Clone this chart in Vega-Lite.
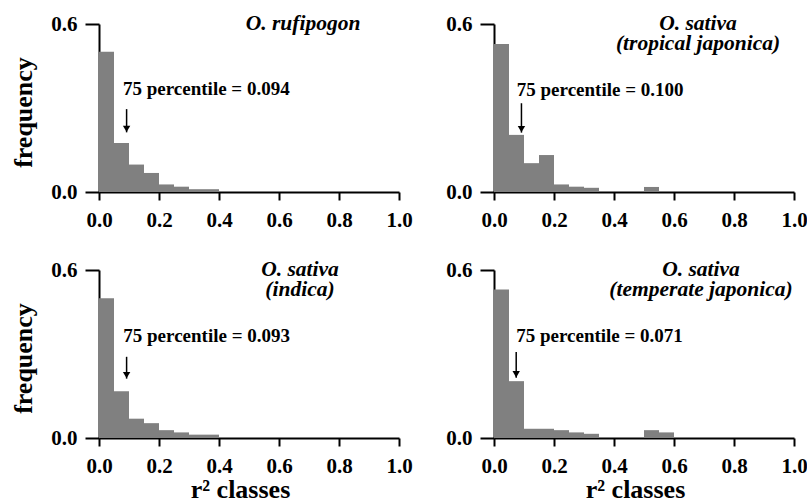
{
  "$schema": "https://vega.github.io/schema/vega-lite/v6.json",
  "autosize": {"type": "pad"},
  "padding": {"left": 10, "top": 13, "right": 5, "bottom": 0},
  "background": "white",
  "config": {
    "view": {"stroke": null},
    "font": "Times New Roman, Liberation Serif, serif",
    "text": {"font": "Times New Roman, Liberation Serif, serif"},
    "axis": {
      "grid": false,
      "domainColor": "black",
      "domainWidth": 2,
      "tickColor": "black",
      "tickWidth": 2,
      "labelColor": "black",
      "labelFont": "Times New Roman, Liberation Serif, serif",
      "labelFontSize": 21,
      "labelFontWeight": "bold",
      "titleColor": "black",
      "titleFont": "Times New Roman, Liberation Serif, serif",
      "titleFontSize": 26,
      "titleFontWeight": "bold"
    },
    "axisX": {"tickSize": 8, "labelPadding": 9, "titlePadding": 0, "titleX": 141, "labelFlush": false, "labelOverlap": false},
    "axisY": {"tickSize": 14, "labelPadding": 8, "titlePadding": 14, "titleY": 88}
  },
  "datasets": {
    "bars": [
      {"panel": "rufipogon", "bin_start": 0.0, "bin_end": 0.05, "freq": 0.501},
      {"panel": "rufipogon", "bin_start": 0.05, "bin_end": 0.10, "freq": 0.175},
      {"panel": "rufipogon", "bin_start": 0.10, "bin_end": 0.15, "freq": 0.098},
      {"panel": "rufipogon", "bin_start": 0.15, "bin_end": 0.20, "freq": 0.068},
      {"panel": "rufipogon", "bin_start": 0.20, "bin_end": 0.25, "freq": 0.027},
      {"panel": "rufipogon", "bin_start": 0.25, "bin_end": 0.30, "freq": 0.019},
      {"panel": "rufipogon", "bin_start": 0.30, "bin_end": 0.35, "freq": 0.010},
      {"panel": "rufipogon", "bin_start": 0.35, "bin_end": 0.40, "freq": 0.010},
      {"panel": "tropical", "bin_start": 0.0, "bin_end": 0.05, "freq": 0.529},
      {"panel": "tropical", "bin_start": 0.05, "bin_end": 0.10, "freq": 0.204},
      {"panel": "tropical", "bin_start": 0.10, "bin_end": 0.15, "freq": 0.103},
      {"panel": "tropical", "bin_start": 0.15, "bin_end": 0.20, "freq": 0.132},
      {"panel": "tropical", "bin_start": 0.20, "bin_end": 0.25, "freq": 0.027},
      {"panel": "tropical", "bin_start": 0.25, "bin_end": 0.30, "freq": 0.019},
      {"panel": "tropical", "bin_start": 0.30, "bin_end": 0.35, "freq": 0.015},
      {"panel": "tropical", "bin_start": 0.50, "bin_end": 0.55, "freq": 0.018},
      {"panel": "indica", "bin_start": 0.0, "bin_end": 0.05, "freq": 0.499},
      {"panel": "indica", "bin_start": 0.05, "bin_end": 0.10, "freq": 0.167},
      {"panel": "indica", "bin_start": 0.10, "bin_end": 0.15, "freq": 0.069},
      {"panel": "indica", "bin_start": 0.15, "bin_end": 0.20, "freq": 0.053},
      {"panel": "indica", "bin_start": 0.20, "bin_end": 0.25, "freq": 0.028},
      {"panel": "indica", "bin_start": 0.25, "bin_end": 0.30, "freq": 0.020},
      {"panel": "indica", "bin_start": 0.30, "bin_end": 0.35, "freq": 0.012},
      {"panel": "indica", "bin_start": 0.35, "bin_end": 0.40, "freq": 0.012},
      {"panel": "temperate", "bin_start": 0.0, "bin_end": 0.05, "freq": 0.530},
      {"panel": "temperate", "bin_start": 0.05, "bin_end": 0.10, "freq": 0.203},
      {"panel": "temperate", "bin_start": 0.10, "bin_end": 0.15, "freq": 0.033},
      {"panel": "temperate", "bin_start": 0.15, "bin_end": 0.20, "freq": 0.033},
      {"panel": "temperate", "bin_start": 0.20, "bin_end": 0.25, "freq": 0.028},
      {"panel": "temperate", "bin_start": 0.25, "bin_end": 0.30, "freq": 0.020},
      {"panel": "temperate", "bin_start": 0.30, "bin_end": 0.35, "freq": 0.015},
      {"panel": "temperate", "bin_start": 0.50, "bin_end": 0.55, "freq": 0.028},
      {"panel": "temperate", "bin_start": 0.55, "bin_end": 0.60, "freq": 0.020}
    ],
    "notes": [
      {"panel": "rufipogon", "title": "O. rufipogon", "title_x": 0.68, "label": "75 percentile = 0.094", "label_x": 0.08, "label_y": 0.345, "arrow_x": 0.092, "arrow_top": 0.296, "arrow_tip": 0.213},
      {"panel": "tropical", "title": "O. sativa\n(tropical japonica)", "title_x": 0.68, "label": "75 percentile = 0.100", "label_x": 0.076, "label_y": 0.343, "arrow_x": 0.0915, "arrow_top": 0.317, "arrow_tip": 0.212},
      {"panel": "indica", "title": "O. sativa\n(indica)", "title_x": 0.67, "label": "75 percentile = 0.093", "label_x": 0.081, "label_y": 0.343, "arrow_x": 0.092, "arrow_top": 0.29, "arrow_tip": 0.212},
      {"panel": "temperate", "title": "O. sativa\n(temperate japonica)", "title_x": 0.69, "label": "75 percentile = 0.071", "label_x": 0.074, "label_y": 0.343, "arrow_x": 0.074, "arrow_top": 0.307, "arrow_tip": 0.215}
    ]
  },
  "columns": 2,
  "spacing": {"row": 78, "column": 95},
  "bounds": "flush",
  "concat": [
    {
      "width": 300, "height": 168,
      "layer": [
        {"data": {"name": "bars"}, "transform": [{"filter": "datum.panel == 'rufipogon'"}],
         "mark": {"type": "rect", "color": "#808080"},
         "encoding": {
           "x": {"field": "bin_start", "type": "quantitative", "scale": {"domain": [0, 1], "nice": false},
                 "axis": {"title": null, "values": [0, 0.1, 0.2, 0.3, 0.4, 0.5, 0.6, 0.7, 0.8, 0.9, 1.0], "labelExpr": "round(datum.value * 10) % 2 == 0 ? format(datum.value, '.1f') : ''"}},
           "x2": {"field": "bin_end"},
           "y": {"field": "freq", "type": "quantitative", "scale": {"domain": [0, 0.6], "nice": false},
                 "axis": {"title": "frequency", "values": [0, 0.6], "format": ".1f"}},
           "y2": {"datum": 0}
         }},
        {"data": {"name": "notes"}, "transform": [{"filter": "datum.panel == 'rufipogon'"}],
         "mark": {"type": "rule", "strokeWidth": 1.5, "color": "black"},
         "encoding": {"x": {"field": "arrow_x", "type": "quantitative"}, "y": {"field": "arrow_top", "type": "quantitative"}, "y2": {"field": "arrow_tip"}}},
        {"data": {"name": "notes"}, "transform": [{"filter": "datum.panel == 'rufipogon'"}],
         "mark": {"type": "point", "shape": "triangle-down", "filled": true, "color": "black", "size": 55, "opacity": 1, "yOffset": -3.5},
         "encoding": {"x": {"field": "arrow_x", "type": "quantitative"}, "y": {"field": "arrow_tip", "type": "quantitative"}}},
        {"data": {"name": "notes"}, "transform": [{"filter": "datum.panel == 'rufipogon'"}],
         "mark": {"type": "text", "align": "left", "baseline": "alphabetic", "fontSize": 19, "fontWeight": "bold", "color": "black"},
         "encoding": {"x": {"field": "label_x", "type": "quantitative"}, "y": {"field": "label_y", "type": "quantitative"}, "text": {"field": "label"}}},
        {"data": {"name": "notes"}, "transform": [{"filter": "datum.panel == 'rufipogon'"}],
         "mark": {"type": "text", "align": "center", "baseline": "alphabetic", "fontSize": 21.5, "fontWeight": "bold", "fontStyle": "italic", "color": "black", "lineBreak": "\n", "lineHeight": 20, "dy": 6},
         "encoding": {"x": {"field": "title_x", "type": "quantitative"}, "y": {"datum": 0.6}, "text": {"field": "title"}}}
      ]
    },
    {
      "width": 300, "height": 168,
      "layer": [
        {"data": {"name": "bars"}, "transform": [{"filter": "datum.panel == 'tropical'"}],
         "mark": {"type": "rect", "color": "#808080"},
         "encoding": {
           "x": {"field": "bin_start", "type": "quantitative", "scale": {"domain": [0, 1], "nice": false},
                 "axis": {"title": null, "values": [0, 0.1, 0.2, 0.3, 0.4, 0.5, 0.6, 0.7, 0.8, 0.9, 1.0], "labelExpr": "round(datum.value * 10) % 2 == 0 ? format(datum.value, '.1f') : ''"}},
           "x2": {"field": "bin_end"},
           "y": {"field": "freq", "type": "quantitative", "scale": {"domain": [0, 0.6], "nice": false},
                 "axis": {"title": null, "values": [0, 0.6], "format": ".1f"}},
           "y2": {"datum": 0}
         }},
        {"data": {"name": "notes"}, "transform": [{"filter": "datum.panel == 'tropical'"}],
         "mark": {"type": "rule", "strokeWidth": 1.5, "color": "black"},
         "encoding": {"x": {"field": "arrow_x", "type": "quantitative"}, "y": {"field": "arrow_top", "type": "quantitative"}, "y2": {"field": "arrow_tip"}}},
        {"data": {"name": "notes"}, "transform": [{"filter": "datum.panel == 'tropical'"}],
         "mark": {"type": "point", "shape": "triangle-down", "filled": true, "color": "black", "size": 55, "opacity": 1, "yOffset": -3.5},
         "encoding": {"x": {"field": "arrow_x", "type": "quantitative"}, "y": {"field": "arrow_tip", "type": "quantitative"}}},
        {"data": {"name": "notes"}, "transform": [{"filter": "datum.panel == 'tropical'"}],
         "mark": {"type": "text", "align": "left", "baseline": "alphabetic", "fontSize": 19, "fontWeight": "bold", "color": "black"},
         "encoding": {"x": {"field": "label_x", "type": "quantitative"}, "y": {"field": "label_y", "type": "quantitative"}, "text": {"field": "label"}}},
        {"data": {"name": "notes"}, "transform": [{"filter": "datum.panel == 'tropical'"}],
         "mark": {"type": "text", "align": "center", "baseline": "alphabetic", "fontSize": 21.5, "fontWeight": "bold", "fontStyle": "italic", "color": "black", "lineBreak": "\n", "lineHeight": 20, "dy": 6},
         "encoding": {"x": {"field": "title_x", "type": "quantitative"}, "y": {"datum": 0.6}, "text": {"field": "title"}}}
      ]
    },
    {
      "width": 300, "height": 168,
      "layer": [
        {"data": {"name": "bars"}, "transform": [{"filter": "datum.panel == 'indica'"}],
         "mark": {"type": "rect", "color": "#808080"},
         "encoding": {
           "x": {"field": "bin_start", "type": "quantitative", "scale": {"domain": [0, 1], "nice": false},
                 "axis": {"title": "r² classes", "values": [0, 0.1, 0.2, 0.3, 0.4, 0.5, 0.6, 0.7, 0.8, 0.9, 1.0], "labelExpr": "round(datum.value * 10) % 2 == 0 ? format(datum.value, '.1f') : ''"}},
           "x2": {"field": "bin_end"},
           "y": {"field": "freq", "type": "quantitative", "scale": {"domain": [0, 0.6], "nice": false},
                 "axis": {"title": "frequency", "values": [0, 0.6], "format": ".1f"}},
           "y2": {"datum": 0}
         }},
        {"data": {"name": "notes"}, "transform": [{"filter": "datum.panel == 'indica'"}],
         "mark": {"type": "rule", "strokeWidth": 1.5, "color": "black"},
         "encoding": {"x": {"field": "arrow_x", "type": "quantitative"}, "y": {"field": "arrow_top", "type": "quantitative"}, "y2": {"field": "arrow_tip"}}},
        {"data": {"name": "notes"}, "transform": [{"filter": "datum.panel == 'indica'"}],
         "mark": {"type": "point", "shape": "triangle-down", "filled": true, "color": "black", "size": 55, "opacity": 1, "yOffset": -3.5},
         "encoding": {"x": {"field": "arrow_x", "type": "quantitative"}, "y": {"field": "arrow_tip", "type": "quantitative"}}},
        {"data": {"name": "notes"}, "transform": [{"filter": "datum.panel == 'indica'"}],
         "mark": {"type": "text", "align": "left", "baseline": "alphabetic", "fontSize": 19, "fontWeight": "bold", "color": "black"},
         "encoding": {"x": {"field": "label_x", "type": "quantitative"}, "y": {"field": "label_y", "type": "quantitative"}, "text": {"field": "label"}}},
        {"data": {"name": "notes"}, "transform": [{"filter": "datum.panel == 'indica'"}],
         "mark": {"type": "text", "align": "center", "baseline": "alphabetic", "fontSize": 21.5, "fontWeight": "bold", "fontStyle": "italic", "color": "black", "lineBreak": "\n", "lineHeight": 20, "dy": 6},
         "encoding": {"x": {"field": "title_x", "type": "quantitative"}, "y": {"datum": 0.6}, "text": {"field": "title"}}}
      ]
    },
    {
      "width": 300, "height": 168,
      "layer": [
        {"data": {"name": "bars"}, "transform": [{"filter": "datum.panel == 'temperate'"}],
         "mark": {"type": "rect", "color": "#808080"},
         "encoding": {
           "x": {"field": "bin_start", "type": "quantitative", "scale": {"domain": [0, 1], "nice": false},
                 "axis": {"title": "r² classes", "values": [0, 0.1, 0.2, 0.3, 0.4, 0.5, 0.6, 0.7, 0.8, 0.9, 1.0], "labelExpr": "round(datum.value * 10) % 2 == 0 ? format(datum.value, '.1f') : ''"}},
           "x2": {"field": "bin_end"},
           "y": {"field": "freq", "type": "quantitative", "scale": {"domain": [0, 0.6], "nice": false},
                 "axis": {"title": null, "values": [0, 0.6], "format": ".1f"}},
           "y2": {"datum": 0}
         }},
        {"data": {"name": "notes"}, "transform": [{"filter": "datum.panel == 'temperate'"}],
         "mark": {"type": "rule", "strokeWidth": 1.5, "color": "black"},
         "encoding": {"x": {"field": "arrow_x", "type": "quantitative"}, "y": {"field": "arrow_top", "type": "quantitative"}, "y2": {"field": "arrow_tip"}}},
        {"data": {"name": "notes"}, "transform": [{"filter": "datum.panel == 'temperate'"}],
         "mark": {"type": "point", "shape": "triangle-down", "filled": true, "color": "black", "size": 55, "opacity": 1, "yOffset": -3.5},
         "encoding": {"x": {"field": "arrow_x", "type": "quantitative"}, "y": {"field": "arrow_tip", "type": "quantitative"}}},
        {"data": {"name": "notes"}, "transform": [{"filter": "datum.panel == 'temperate'"}],
         "mark": {"type": "text", "align": "left", "baseline": "alphabetic", "fontSize": 19, "fontWeight": "bold", "color": "black"},
         "encoding": {"x": {"field": "label_x", "type": "quantitative"}, "y": {"field": "label_y", "type": "quantitative"}, "text": {"field": "label"}}},
        {"data": {"name": "notes"}, "transform": [{"filter": "datum.panel == 'temperate'"}],
         "mark": {"type": "text", "align": "center", "baseline": "alphabetic", "fontSize": 21.5, "fontWeight": "bold", "fontStyle": "italic", "color": "black", "lineBreak": "\n", "lineHeight": 20, "dy": 6},
         "encoding": {"x": {"field": "title_x", "type": "quantitative"}, "y": {"datum": 0.6}, "text": {"field": "title"}}}
      ]
    }
  ]
}
